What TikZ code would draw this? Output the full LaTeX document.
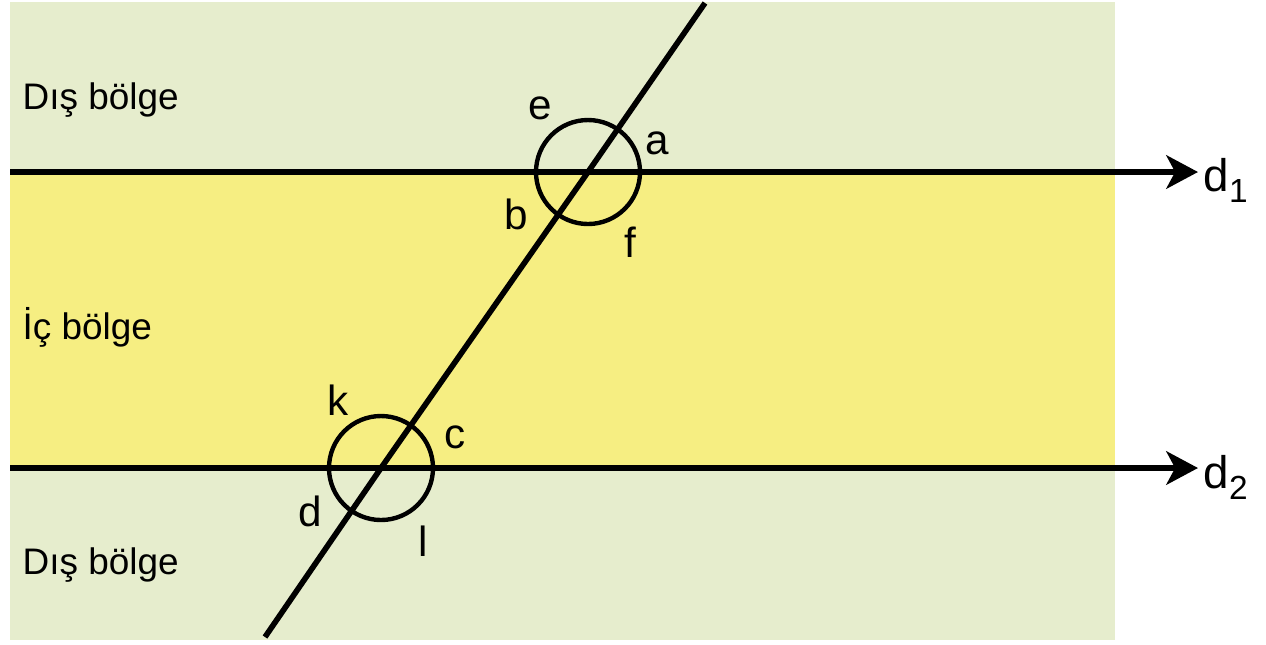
\documentclass[tikz,border=0pt]{standalone}
\usepackage{fontspec}
\setmainfont{Liberation Sans}
\usetikzlibrary{arrows.meta}
\definecolor{outzone}{RGB}{230,237,205}
\definecolor{inzone}{RGB}{246,238,130}
\newcommand{\lowidx}[1]{\raisebox{-.45ex}{\fontsize{9.5}{11}\selectfont#1}}
\begin{document}
\begin{tikzpicture}[x=.01cm,y=-.01cm,
                    line/.style={line width=1.6pt},
                    ring/.style={line width=1.25pt},
                    parallel/.style={line width=1.6pt,-{Stealth[length=9pt,width=9.5pt,inset=2.5pt]}},
                    every node/.style={font=\fontsize{12}{14}\selectfont,inner sep=0pt},
                    zone/.style={font=\fontsize{10.5}{12}\selectfont,anchor=west}]
 \useasboundingbox (0,0) rectangle (1266,644);
 \fill[outzone] (10,2) rectangle (1115,640);
 \fill[inzone] (10,172) rectangle (1115,468);
 \coordinate (d1s) at (10,172); \coordinate (d1e) at (1198,172);
 \coordinate (d2s) at (10,468); \coordinate (d2e) at (1198,468);
 \coordinate (top) at (705,3); \coordinate (bot) at (265,637);
 \coordinate (p) at (588,172); \coordinate (q) at (381,468);
 \draw[parallel] (d1s)--(d1e);
 \draw[parallel] (d2s)--(d2e);
 \draw[line] (bot)--(q)--(p)--(top);
 \draw[ring] (p) circle (52);
 \draw[ring] (q) circle (52);
 \node (e) at (540,108) {e}; \node (a) at (657,143) {a};
 \node (b) at (516,214) {b}; \node (f) at (630,242) {f};
 \node (k) at (338,400) {k}; \node (c) at (455,437) {c};
 \node (d) at (310,511) {d}; \node (l) at (423,541) {l};
 \node[anchor=west,font=\fontsize{13}{15}\selectfont] (n1) at (1203,180) {d\lowidx{1}};
 \node[anchor=west,font=\fontsize{13}{15}\selectfont] (n2) at (1203,477) {d\lowidx{2}};
 \node[zone] (z1) at (22,100) {Dış bölge};
 \node[zone] (z2) at (22,327) {İç bölge};
 \node[zone] (z3) at (22,565) {Dış bölge};
\end{tikzpicture}
\end{document}
